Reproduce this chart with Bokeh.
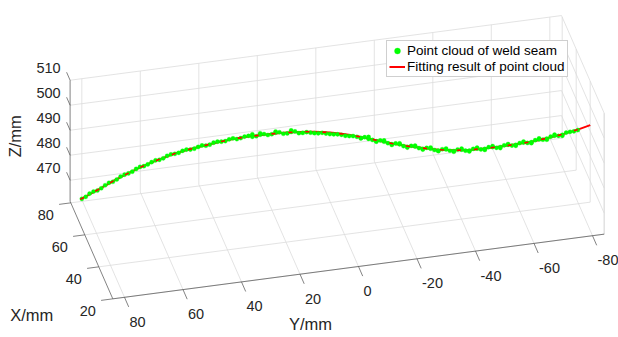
import numpy as np
from bokeh.plotting import figure
from bokeh.models import Range1d, Legend, LegendItem
from bokeh.embed import file_html
from bokeh.resources import INLINE
from bokeh.core.properties import value

# ---------------- data (mm) ----------------
X_LIM = (20.0, 81.0)
Y_LIM = (-84.0, 84.0)
Z_LIM = (461.6, 510.0)
x_ticks = [20, 40, 60, 80]
y_ticks = [80, 60, 40, 20, 0, -20, -40, -60, -80]
z_ticks = [470, 480, 490, 500, 510]

# fitted curve of the weld seam
fit_y = [80.5, 75, 70, 65, 60, 55, 50, 45, 40, 35, 30, 25, 20, 15, 10, 5, 0,
         -5, -10, -15, -20, -25, -30, -35, -40, -45, -50, -55, -60, -65, -70,
         -75, -80, -84]
fit_x = [81.0, 79.6, 78.4, 77.1, 75.9, 74.6, 73.4, 72.2, 70.9, 69.7, 68.4, 67.2,
         65.9, 64.7, 63.4, 62.2, 60.9, 59.7, 58.4, 57.2, 56.0, 54.7, 53.5, 52.2,
         51.0, 49.7, 48.5, 47.2, 46.0, 44.7, 43.5, 42.2, 41.0, 40.0]
fit_z = [461.8, 465.6, 469.1, 472.4, 475.4, 478.0, 480.3, 482.1, 483.7, 485.2,
         486.5, 487.4, 488.2, 488.8, 489.2, 489.3, 489.0, 488.3, 487.3, 486.0,
         484.7, 483.7, 482.9, 482.3, 482.1, 482.3, 482.9, 483.7, 484.6, 485.7,
         487.1, 488.7, 490.6, 492.4]

# measured point cloud of the weld seam
cloud_y = [80.0, 77.5, 75.0, 72.5, 70.0, 67.5, 65.0, 62.5, 60.0, 57.5, 55.0, 52.5,
           50.0, 47.5, 45.0, 42.5, 40.0, 37.5, 35.0, 32.5, 30.0, 27.5, 25.0, 22.5,
           20.0, 17.5, 15.0, 12.5, 10.0, 7.5, 5.0, 2.5, 0.0, -2.5, -5.0, -7.5,
           -10.0, -12.5, -15.0, -17.5, -20.0, -22.5, -25.0, -27.5, -30.0, -32.5,
           -35.0, -37.5, -40.0, -42.5, -45.0, -47.5, -50.0, -52.5, -55.0, -57.5,
           -60.0, -62.5, -65.0, -67.5, -70.0, -72.5, -75.0, -77.5, -80.0,
           78.75, 76.25, 73.75, 71.25, 68.75, 66.25, 63.75, 61.25, 58.75, 56.25,
           53.75, 51.25, 48.75, 46.25, 43.75, 41.25, 38.75, 36.25, 33.75, 31.25,
           28.75, 26.25, 23.75, 21.25, 18.75, 16.25, 13.75, 11.25, 8.75, 6.25,
           3.75, 1.25, -1.25, -3.75, -6.25, -8.75, -11.25, -13.75, -16.25, -18.75,
           -21.25, -23.75, -26.25, -28.75, -31.25, -33.75, -36.25, -38.75, -41.25,
           -43.75, -46.25, -48.75, -51.25, -53.75, -56.25, -58.75, -61.25, -63.75,
           -66.25, -68.75, -71.25, -73.75, -76.25, -78.75,
           25.0, 22.5, 17.5, 12.5,
           -10.0, -15.0, -20.0, -25.0, -30.0, -35.0, -40.0, -45.0, -50.0, -55.0,
           -60.0, -65.0, -70.0, -75.0,
           -12.5, -17.5, -22.5, -27.5, -32.5, -37.5, -42.5, -47.5, -52.5, -57.5,
           -62.5, -67.5, -72.5]
cloud_x = [80.9, 80.3, 79.6, 79.0, 78.4, 77.8, 77.1, 76.5, 75.9, 75.3, 74.6, 74.0,
           73.4, 72.8, 72.2, 71.5, 70.9, 70.3, 69.7, 69.0, 68.4, 67.8, 67.2, 66.5,
           65.9, 65.3, 64.7, 64.0, 63.4, 62.8, 62.2, 61.5, 60.9, 60.3, 59.7, 59.1,
           58.4, 57.8, 57.2, 56.6, 56.0, 55.3, 54.7, 54.1, 53.5, 52.8,
           52.2, 51.6, 51.0, 50.3, 49.7, 49.1, 48.5, 47.8, 47.2, 46.6,
           46.0, 45.4, 44.7, 44.1, 43.5, 42.9, 42.2, 41.6, 41.0,
           80.6, 79.9, 79.3, 78.7, 78.1, 77.4, 76.8, 76.2, 75.6, 74.9,
           74.3, 73.7, 73.1, 72.5, 71.8, 71.2, 70.6, 70.0, 69.3, 68.7,
           68.1, 67.5, 66.8, 66.2, 65.6, 65.0, 64.3, 63.7, 63.1, 62.5,
           61.8, 61.2, 60.6, 60.0, 59.4, 58.8, 58.1, 57.5, 56.9, 56.3,
           55.7, 55.0, 54.4, 53.8, 53.2, 52.5, 51.9, 51.3, 50.7,
           50.0, 49.4, 48.8, 48.2, 47.5, 46.9, 46.3, 45.7, 45.0,
           44.4, 43.8, 43.2, 42.5, 41.9, 41.3,
           67.2, 66.5, 65.3, 64.0,
           58.4, 57.2, 56.0, 54.7, 53.5, 52.2, 51.0, 49.7, 48.5, 47.2,
           46.0, 44.7, 43.5, 42.2,
           57.8, 56.6, 55.3, 54.1, 52.8, 51.6, 50.3, 49.1, 47.8, 46.6,
           45.4, 44.1, 42.9]
cloud_z = [462.0, 464.1, 465.4, 467.5, 468.9, 471.0, 472.3, 474.1, 475.2, 476.8,
           477.8, 479.4, 480.2, 481.4, 481.9, 483.0, 483.5, 484.7, 485.1, 486.1,
           486.2, 487.2, 487.1, 488.0, 487.9, 488.8, 488.4, 489.2, 488.7, 489.1,
           488.7, 488.9, 488.4, 488.3, 487.7, 487.6, 486.9, 486.5, 485.6, 485.4,
           484.4, 484.4, 483.4, 483.5, 482.6, 482.7, 482.0, 482.4, 481.8, 482.4,
           482.0, 482.8, 482.7, 483.5, 483.5, 484.4, 484.4, 485.3, 485.5, 486.6,
           486.9, 488.1, 488.5, 489.7, 490.4,
           462.8, 465.0, 466.3, 468.5, 469.8, 471.8, 473.0, 474.9, 475.9, 477.6,
           478.4, 480.0, 480.6, 481.9, 482.3, 483.6, 483.9, 485.1, 485.4, 486.5,
           486.6, 487.5, 487.4, 488.3, 488.2, 489.0, 488.6, 489.4, 488.8, 488.9,
           488.7, 488.6, 488.3, 488.1, 487.6, 487.3, 487.2, 486.1, 485.9, 484.8,
           484.7, 483.7, 483.8, 482.9, 483.0, 482.2, 482.5, 481.9, 482.4,
           482.0, 482.7, 482.5, 483.4, 483.2, 484.2, 484.1, 485.1, 485.2,
           486.3, 486.5, 487.7, 488.1, 489.4, 489.9,
           488.1, 488.6, 489.3, 489.8,
           486.7, 485.4, 484.1, 483.1, 482.3, 481.7, 481.5, 481.7, 482.3, 483.1,
           484.0, 485.1, 486.5, 488.1,
           487.3, 485.9, 484.8, 483.9, 483.2, 482.8, 482.8, 483.2, 483.9, 484.7,
           485.7, 487.0, 488.5]

# ---------------- view (orthographic projection to page pixels) ----------------
def proj(x, y, z):
    x = np.asarray(x, float)
    y = np.asarray(y, float)
    z = np.asarray(z, float)
    sx = 358.0 - 0.70 * (x - 20.0) - 2.925 * y
    sy = 265.0 - 1.60 * (x - 20.0) + 0.385 * y - 2.5 * (z - 462.0)
    return sx, sy

W, H = 618, 337
p = figure(width=W, height=H, x_range=Range1d(0, W), y_range=Range1d(H, 0),
           output_backend="svg", toolbar_location=None, min_border=0,
           x_axis_location=None, y_axis_location=None, outline_line_color=None,
           background_fill_color="white", border_fill_color="white")
p.xgrid.visible = False
p.ygrid.visible = False

x0, x1 = X_LIM
y0, y1 = Y_LIM
z0, z1 = Z_LIM

def seg(a, b):
    sa = proj(*a)
    sb = proj(*b)
    return [float(sa[0]), float(sb[0])], [float(sa[1]), float(sb[1])]

gx, gy = [], []
def add(a, b, X=gx, Y=gy):
    s = seg(a, b)
    X.append(s[0]); Y.append(s[1])

# floor z = zmin
for yt in y_ticks:
    add((x0, yt, z0), (x1, yt, z0))
for xt in x_ticks:
    add((xt, y0, z0), (xt, y1, z0))
# back wall x = xmax
for yt in y_ticks:
    add((x1, yt, z0), (x1, yt, z1))
for zt in z_ticks:
    add((x1, y0, zt), (x1, y1, zt))
# side wall y = ymin
for xt in x_ticks:
    add((xt, y0, z0), (xt, y0, z1))
add((x0, y0, z0), (x0, y0, z1))
for zt in z_ticks:
    add((x0, y0, zt), (x1, y0, zt))
p.multi_line(gx, gy, line_color="#dcdcdc", line_width=0.8)

# axis lines and ticks
ax_x, ax_y = [], []
add((x0, y1, z0), (x1, y1, z0), ax_x, ax_y)   # X axis
add((x0, y0, z0), (x0, y1, z0), ax_x, ax_y)   # Y axis
add((x1, y1, z0), (x1, y1, z1), ax_x, ax_y)   # Z axis
for xt in x_ticks:
    add((xt, y1, z0), (xt, y1 + 4, z0), ax_x, ax_y)
for yt in y_ticks:
    add((x0, yt, z0), (x0 - 6, yt, z0), ax_x, ax_y)
for zt in z_ticks:
    add((x1, y1, zt), (x1 + 5, y1, zt), ax_x, ax_y)
p.multi_line(ax_x, ax_y, line_color="#4d4d4d", line_width=0.7)

FONT = value("Liberation Sans")
TC = "#262626"
TFS = "14.5px"

# tick labels
sx, sy = proj(x_ticks, [y1] * len(x_ticks), [z0] * len(x_ticks))
p.text(sx - 17, sy + 12, text=[str(v) for v in x_ticks], text_font=FONT,
       text_font_size=TFS, text_align="right", text_baseline="middle", text_color=TC)
sx, sy = proj([x0] * len(y_ticks), y_ticks, [z0] * len(y_ticks))
p.text(sx + 5, sy + 24.5, text=[str(v) for v in y_ticks], text_font=FONT,
       text_font_size=TFS, text_align="left", text_baseline="middle", text_color=TC)
sx, sy = proj([x1] * len(z_ticks), [y1] * len(z_ticks), z_ticks)
p.text(sx - 9.5, sy - 12, text=[str(v) for v in z_ticks], text_font=FONT,
       text_font_size=TFS, text_align="right", text_baseline="middle", text_color=TC)

# axis titles
sx, sy = proj(50, y1, z0)
p.text([float(sx) - 60], [float(sy) + 64], text=["X/mm"], text_font=FONT,
       text_font_size="16.5px", text_align="center", text_baseline="middle", text_color=TC)
sx, sy = proj(x0, 0, z0)
p.text([float(sx) - 48], [float(sy) + 57.5], text=["Y/mm"], text_font=FONT,
       text_font_size="16.5px", text_align="center", text_baseline="middle", text_color=TC)
sx, sy = proj(x1, y1, (z0 + z1) / 2)
p.text([float(sx) - 55.5], [float(sy) - 4.5], text=["Z/mm"], text_font=FONT,
       text_font_size="16.5px", text_align="center", text_baseline="middle",
       angle=np.pi / 2, text_color=TC)

# data
fx, fy = proj(fit_x, fit_y, fit_z)
ln = p.line(fx, fy, line_color="#ff0000", line_width=2.0)
cx, cy = proj(cloud_x, cloud_y, cloud_z)
pts = p.scatter(cx, cy, marker="circle", size=4.2, fill_color="#00ff00",
                line_color="#00ff00", line_width=0.3)
# the fitted curve shows through the cloud in places (depth interleaving)
p.line(fx, fy, line_color="#ff0000", line_width=1.6, line_dash="4 13")

legend = Legend(items=[LegendItem(label="Point cloud of weld seam", renderers=[pts]),
                       LegendItem(label="Fitting result of point cloud", renderers=[ln])],
                location=(386, 260), orientation="vertical",
                label_text_font="Liberation Sans", label_text_font_size="13.5px",
                label_text_color="#000000", glyph_width=16, glyph_height=15,
                label_height=15, label_standoff=2, spacing=1, padding=2, margin=0,
                border_line_color="#a0a0a0", border_line_width=0.8,
                background_fill_color="white", background_fill_alpha=1.0)
p.add_layout(legend)

open("out.html", "w").write(file_html(p, INLINE))
